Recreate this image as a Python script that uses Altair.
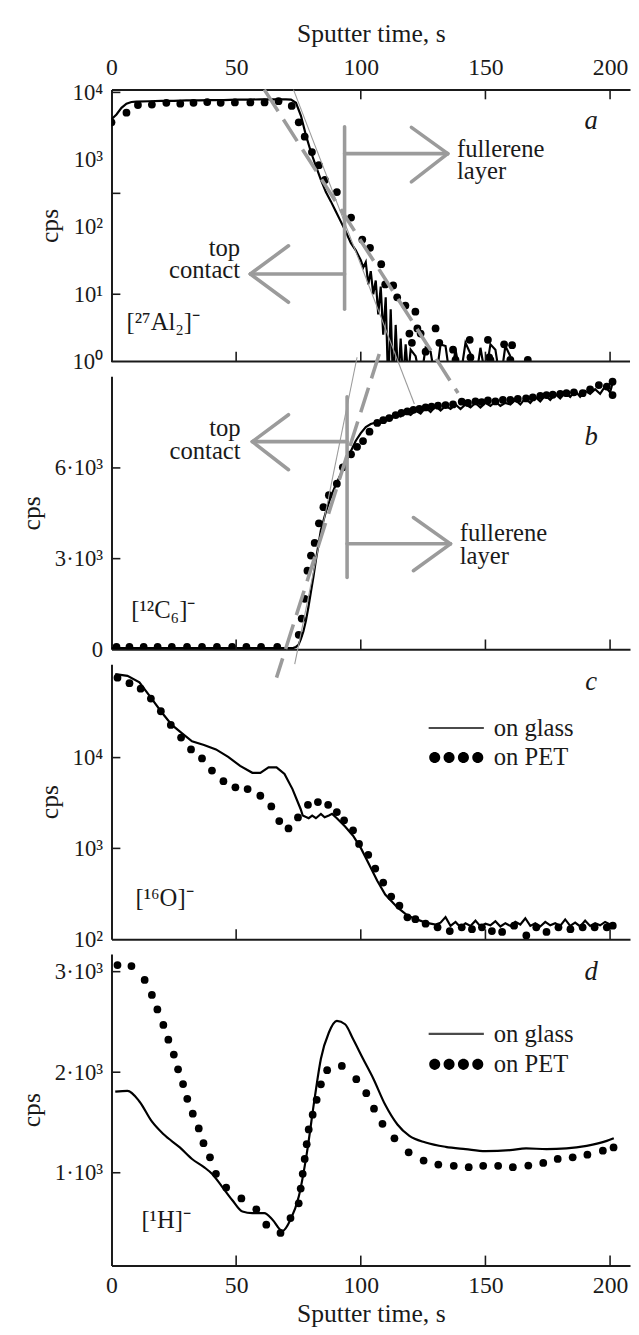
import altair as alt
import pandas as pd

FONT = "Liberation Serif"
TXT = "#1a1a1a"
AX = "#1a1a1a"
GRAY = "#9b9b9b"

XMAX = 208
W = 526
H_A, H_B, H_C, H_D = 276, 277, 279, 316

X_LABELS = [0, 50, 100, 150, 200]
X_TICKS = [50, 100, 150, 200]
X_TICKS_TOP = [100, 150, 200]

# ---------------- panel a : [27Al2]- (log) ----------------
A_DOMAIN = [1, 11066]
A_LAB_V = [1, 10, 100, 1000, 10000]
A_LAB_T = ["10⁰", "10¹", "10²", "10³", "10⁴"]
A_TICKS = [10000, 316, 10]
GA_X = [0, 2, 4, 6, 8, 10, 15, 20, 25, 30, 35, 40, 45, 50, 55, 60, 65, 68, 70, 72,
        74, 76, 78, 80, 82, 84, 86, 88, 90, 92, 94, 96, 98, 100,
        101, 102, 103, 104, 105, 106, 107, 108, 109, 110, 111, 112, 113, 114, 115, 116, 117, 118, 119, 120,
        122, 124, 126, 128, 130, 132, 134, 136, 138, 140, 142, 144, 146, 148, 150, 152, 154, 156, 158, 160]
GA_V = [4000, 4700, 5900, 6800, 7200, 7300, 7400, 7500, 7500, 7600, 7600, 7700, 7700, 7800, 7800, 7900, 7900, 7900, 7900, 7800,
        7000, 4500, 2300, 1300, 800, 500, 330, 240, 170, 120, 85, 58, 45, 32,
        25, 30, 14, 22, 10, 16, 5, 13, 2.5, 9, 0.4, 6, 0.4, 3.5, 0.5, 2.2, 0.5, 1.8, 0.6, 1.5,
        1.2, 0.5, 1.6, 1.4, 0.5, 1.8, 1.7, 0.5, 1.5, 0.6, 1.9, 1.3, 0.5, 1.6, 0.6, 1.8, 1.5, 0.5, 1.7, 1.2]
PA_X = [0, 6, 10.6, 16.2, 22, 27.6, 32.9, 38.4, 43.8, 49.5, 55.7, 61.4, 67, 72.3, 75.1, 77.5, 80.4, 83.2, 85.6, 90.4,
        96.1, 100.6, 103.7, 108.2, 109.8, 113, 114.6, 117.9, 119.5, 120.5, 121.9, 122.7, 124, 126, 130, 131.5, 137, 138,
        143.7, 144, 151, 151.5, 152, 157.5, 160, 160.7, 167]
PA_V = [3600, 5000, 6500, 6600, 7000, 6800, 7000, 7200, 7000, 7100, 7100, 7100, 7400, 6300, 3600, 2200, 1300, 830, 500, 330,
        138, 65, 49, 28, 14, 13.5, 9, 6.8, 2.6, 1.9, 5.5, 3.1, 2.6, 1.4, 3.1, 1.9, 1.5, 1.06,
        2.1, 1.15, 2.1, 1.15, 1.06, 1.8, 1.06, 1.75, 1.06]
A_THICK = [(93.5, 3090, 93.5, 6.0), (93.5, 20, 55.7, 20), (71, 52.5, 55.7, 20), (71, 7.6, 55.7, 20),
           (93.5, 1230, 134.9, 1230), (120.3, 3020, 134.9, 1230), (120.3, 468, 134.9, 1230)]
A_THIN = [(73, 11000, 121.5, 0.234)]
A_DASH = [(61.3, 11000, 139, 0.34)]
A_TEXT_L = [("fullerene", 138.6, 1450), ("layer", 138.6, 665), ("[²⁷Al₂]⁻", 6.0, 3.9)]
A_TEXT_R = [("top", 51.6, 49), ("contact", 51.6, 23.2)]
A_LETTER = [("a", 192.4, 3800)]

# ---------------- panel b : [12C6]- (linear) ----------------
B_DOMAIN = [0, 9030]
B_LAB_V = [0, 3000, 6000]
B_LAB_T = ["0", "3·10³", "6·10³"]
B_TICKS = [3000, 6000]
GB_X = [0, 10, 20, 30, 40, 50, 60, 70, 73, 74, 75, 76, 77, 78, 79, 80, 81, 82, 83, 84,
        86, 88, 90, 92, 94, 96, 98, 100, 102, 104, 106, 108, 110, 112, 114, 116, 118, 120, 122, 124,
        126, 128, 130, 132, 134, 136, 138, 140, 142, 144, 146, 148, 150, 152, 154, 156, 158, 160, 162, 164,
        166, 168, 170, 172, 174, 176, 178, 180, 182, 184, 186, 188, 190, 192, 194, 196, 198, 200, 201]
GB_V = [40, 40, 40, 40, 40, 40, 40, 40, 50, 80, 150, 350, 600, 950, 1400, 1900, 2400, 2950, 3450, 3950,
        4550, 5050, 5450, 5800, 6200, 6550, 6900, 7150, 7350, 7450, 7500, 7550, 7650, 7600, 7750, 7700, 7850, 7750, 7900, 7800,
        8000, 7850, 8050, 7900, 8050, 7950, 8100, 7950, 8100, 8000, 8150, 8000, 8150, 8050, 8200, 8050, 8150, 8100, 8250, 8100,
        8300, 8150, 8350, 8200, 8400, 8250, 8450, 8300, 8500, 8350, 8550, 8350, 8550, 8450, 8600, 8450, 8700, 8500, 8800]
PB_X = [2, 7.2, 12.9, 18.5, 24.2, 30.3, 36.3, 42.3, 48.4, 54.1, 60, 66.5,
        75.1, 76.3, 77.5, 78.6, 80, 81.5, 83.2, 85, 87.2, 90.4, 92.8, 96.1, 98.5, 100.9, 103.5, 106.6, 109, 111.4,
        114, 116.3, 118.7, 121.1, 123.5, 126, 128.4, 131, 134, 137, 140.5, 143, 146, 148.5, 151, 154, 157, 160, 163,
        166.3, 169, 172, 174.5, 177, 180, 182.5, 185.5, 189, 192, 195.5, 198.7, 201, 201]
PB_V = [80, 80, 80, 80, 80, 80, 80, 80, 80, 80, 80, 80,
        480, 1020, 1670, 2600, 3100, 3520, 4170, 4700, 5100, 5480, 6020, 6450, 6700, 6890, 7200, 7490, 7580, 7650,
        7750, 7820, 7870, 7920, 7950, 8000, 8030, 8060, 8080, 8100, 8190, 8150, 8200, 8180, 8230, 8200, 8250, 8250, 8280,
        8300, 8330, 8380, 8410, 8420, 8450, 8470, 8500, 8470, 8600, 8740, 8690, 8850, 8410]
B_THICK = [(94.5, 8355, 94.5, 2380), (94.5, 6870, 56.5, 6870), (71, 7760, 56.5, 6870), (71, 5940, 56.5, 6870),
           (94.5, 3490, 136, 3490), (121.1, 4360, 136, 3490), (121.1, 2600, 136, 3490)]
B_THIN = [(98.5, 9660, 73.5, -490)]
B_DASH = [(107.4, 9770, 66.2, -935)]
B_TEXT_L = [("fullerene", 139.7, 3850), ("layer", 139.7, 3090), ("[¹²C₆]⁻", 7.9, 1300)]
B_TEXT_R = [("top", 51.8, 7325), ("contact", 51.8, 6560)]
B_LETTER = [("b", 192.4, 7010)]

# ---------------- panel c : [16O]- (log) ----------------
C_DOMAIN = [100, 107000]
C_LAB_V = [100, 1000, 10000]
C_LAB_T = ["10²", "10³", "10⁴"]
C_TICKS = [1000, 10000]
GC_X = [1.5, 6.4, 11.2, 16.1, 20.1, 24.2, 28.2, 32.3, 37.1, 41.9, 46.8, 51.6, 56.5,
        59.7, 63, 66.2, 69.4, 72.6, 75.9, 76.7, 79.1, 80.5, 82, 84, 85.5, 87.2, 88.5, 90.4, 93.7, 96.9,
        100.1, 103.4, 106.6, 109.8, 114.7, 117.9, 121, 124.4, 127, 130, 132, 134, 136,
        138, 140, 142, 144, 146, 148, 150, 152, 154, 156, 158, 160, 162, 164, 166, 168, 170, 172, 174, 176,
        178, 180, 182, 184, 186, 188, 190, 192, 194, 196, 198, 200, 201]
GC_V = [83000, 79400, 67600, 44700, 31600, 22900, 18600, 15100, 13800, 12300, 10200, 8100, 6800,
        6800, 7800, 7800, 6600, 4500, 2700, 2300, 2150, 2300, 2150, 2400, 2200, 2300, 2400, 2150, 1740, 1380,
        1000, 660, 440, 310, 224, 190, 170, 158, 150, 145, 152, 175, 140,
        155, 135, 150, 140, 160, 138, 148, 142, 158, 138, 150, 140, 155, 145, 170, 140, 150, 138, 155, 142,
        150, 140, 165, 140, 152, 138, 160, 140, 150, 142, 155, 145, 150]
PC_X = [2.4, 7.2, 11.7, 15.8, 19.8, 23.8, 27.9, 31.9, 36.3, 40.3, 44.9, 49.7, 54.6, 59.7, 64.1, 67.3, 71, 74.8,
        78.8, 82.8, 86.9, 90.4, 93.3, 96.9, 99.3, 103, 105.8, 109, 112.2, 115.5, 118.7, 121.9, 126, 130.8, 135.7,
        140.5, 144.6, 148.6, 152.6, 156.7, 161.5, 166.4, 170.4, 174.5, 179.3, 184.1, 189, 193.8, 198.7, 201.1]
PC_V = [75900, 66100, 57500, 44700, 32400, 22900, 16600, 12300, 9800, 7200, 5500, 4700, 4500, 3800, 2900, 2000, 1660, 2190,
        3020, 3240, 3020, 2510, 2040, 1580, 1120, 850, 600, 420, 295, 234, 174, 166, 148, 135, 123,
        135, 129, 135, 123, 120, 141, 110, 135, 120, 135, 129, 135, 135, 135, 141]
C_TEXT_L = [("[¹⁶O]⁻", 9.6, 285), ("on glass", 153.3, 21200), ("on PET", 153.3, 10000)]
C_LETTER = [("c", 192.4, 67600)]
C_LEG_LINE = [(138.3, 21200)]
C_LEG_DOTS = [(138.3, 10000)]

# ---------------- panel d : [1H]- (linear) ----------------
D_DOMAIN = [78, 3176]
D_LAB_V = [1000, 2000, 3000]
D_LAB_T = ["1·10³", "2·10³", "3·10³"]
D_TICKS = [1000, 2000, 3000]
GD_X = [1.5, 6.4, 11.2, 16.1, 20.9, 27.4, 32.3, 37.1, 40.3, 44.4, 48.4, 52.5, 56.5, 61.3, 64.6, 68.6, 71.8, 75.1, 78.3, 81.5,
        84, 87.2, 90.4, 93.7, 96.9, 100.9, 105, 109.8, 114.7, 119.5, 126, 134, 142, 150, 159.9, 166.3, 174.5, 182.5, 190.6,
        198.7, 201.5]
GD_V = [1807, 1814, 1709, 1513, 1382, 1252, 1137, 1056, 990, 860, 729, 614, 598, 598, 533, 420, 533, 761, 1186, 1742,
        2134, 2395, 2510, 2477, 2330, 2134, 1938, 1676, 1480, 1366, 1301, 1258, 1235, 1215, 1225, 1242, 1235, 1242, 1268,
        1317, 1343]
PD_X = [2.4, 8, 13.3, 16.2, 18.4, 20.8, 22.8, 25, 26.7, 28.7, 30.4, 32.6, 35, 36.9, 39.5, 41.9, 46, 52.1, 58.1, 62.1,
        67.8, 71.8, 75.1, 75.9, 76.7, 77.5, 78.3, 79.1, 80.7, 82.3, 84, 86.5, 92.4, 98.2, 102.2, 105.3, 108.7, 113.5,
        119.2, 125.2, 131.1, 137.3, 143.3, 149.1, 155.1, 161, 167.2, 173.2, 179, 185, 190.9, 197.1, 201.4]
PD_V = [3066, 3056, 2918, 2768, 2624, 2470, 2324, 2176, 2029, 1882, 1735, 1588, 1441, 1294, 1154, 990, 853, 745, 637, 484,
        402, 549, 696, 843, 990, 1137, 1284, 1431, 1578, 1725, 1879, 2020, 2062, 1931, 1791, 1637, 1487, 1343,
        1203, 1121, 1082, 1069, 1056, 1069, 1069, 1056, 1072, 1098, 1137, 1154, 1180, 1219, 1252]
D_TEXT_L = [("[¹H]⁻", 12.0, 532), ("on glass", 153.3, 2382), ("on PET", 153.3, 2078)]
D_LETTER = [("d", 192.4, 3000)]
D_LEG_LINE = [(138.3, 2382)]
D_LEG_DOTS = [(138.3, 2078)]

# ---------------------------------------------------------------
XS = alt.Scale(domain=[0, XMAX], nice=False, zero=False)
DOTS4 = ("M-0.98,0a0.2,0.2 0 1,0 0.4,0a0.2,0.2 0 1,0 -0.4,0Z"
         "M-0.46,0a0.2,0.2 0 1,0 0.4,0a0.2,0.2 0 1,0 -0.4,0Z"
         "M0.06,0a0.2,0.2 0 1,0 0.4,0a0.2,0.2 0 1,0 -0.4,0Z"
         "M0.58,0a0.2,0.2 0 1,0 0.4,0a0.2,0.2 0 1,0 -0.4,0Z")


def label_expr(vals, labs):
    return " : ".join(f"datum.value == {v} ? '{l}'" for v, l in zip(vals, labs)) + " : ''"


def y_axis(vals, labs):
    return alt.Axis(values=vals, labelExpr=label_expr(vals, labs), tickSize=0, labelPadding=9,
                    labelFont=FONT, labelFontSize=23, labelColor=TXT, labelOverlap=False, labelFlush=False,
                    title="cps", titleFont=FONT, titleFontSize=26, titleFontWeight="normal", titleColor=TXT,
                    titlePadding=10, domainColor=AX, domainWidth=2, grid=False)


def x_axis(kind):
    common = dict(values=X_LABELS, tickSize=0, domainColor=AX, domainWidth=2, grid=False, labelFlush=False,
                  labelFont=FONT, labelFontSize=24, labelColor=TXT, labelOverlap=False,
                  titleFont=FONT, titleFontSize=26, titleFontWeight="normal", titleColor=TXT)
    if kind == "top":
        return alt.Axis(orient="top", labelPadding=10, title="Sputter time, s", titlePadding=10, **common)
    if kind == "bottom":
        return alt.Axis(orient="bottom", labelPadding=8, title="Sputter time, s", titlePadding=4, **common)
    return alt.Axis(orient="bottom", labels=False, title="", **common)


def panel(h, ys, yaxis, gx, gv, px, pv, xkind, interp="linear", thick=(), thin=(), dash=(),
          text_l=(), text_r=(), letter=(), ticks_y=(), top_ticks=False, leg_line=(), leg_dots=()):
    xa = x_axis(xkind)

    def X(f):
        return alt.X(f, scale=XS, axis=xa)

    def Y(f):
        return alt.Y(f, scale=ys, axis=yaxis)

    layers = []
    gdf = pd.DataFrame({"x": gx, "v": gv})
    layers.append(alt.Chart(gdf).mark_line(color="black", strokeWidth=2.2, clip=True, interpolate=interp).encode(
        x=X("x:Q"), y=Y("v:Q")))
    pdf = pd.DataFrame({"x": px, "v": pv})
    layers.append(alt.Chart(pdf).mark_circle(color="black", size=62, opacity=1, clip=True).encode(
        x=X("x:Q"), y=Y("v:Q")))
    tk = alt.Chart(pd.DataFrame({"x": X_TICKS})).mark_rule(color=AX, strokeWidth=1.6)
    layers.append(tk.encode(x=X("x:Q"), y=alt.value(h - 10), y2=alt.value(h)))
    if top_ticks:
        tkt = alt.Chart(pd.DataFrame({"x": X_TICKS_TOP})).mark_rule(color=AX, strokeWidth=1.6)
        layers.append(tkt.encode(x=X("x:Q"), y=alt.value(0), y2=alt.value(10)))
        layers.append(alt.Chart(pd.DataFrame({"x": [0], "b": [XMAX]})).mark_rule(color=AX, strokeWidth=2).encode(
            x=X("x:Q"), x2="b:Q", y=alt.value(h)))
    if ticks_y:
        ydf = pd.DataFrame({"v": list(ticks_y)})
        layers.append(alt.Chart(ydf).mark_rule(color=AX, strokeWidth=1.6).encode(
            y=Y("v:Q"), x=alt.value(0), x2=alt.value(9)))

    def segs(rows, **kw):
        df = pd.DataFrame(list(rows), columns=["x", "v", "x2", "y2"])
        return alt.Chart(df).mark_rule(clip=False, color=GRAY, **kw).encode(
            x=X("x:Q"), y=Y("v:Q"), x2="x2:Q", y2="y2:Q")

    if thin:
        layers.append(segs(thin, strokeWidth=1.1))
    if dash:
        layers.append(segs(dash, strokeWidth=3.6, strokeDash=[26, 10]))
    if thick:
        layers.append(segs(thick, strokeWidth=3.6, strokeCap="round"))

    def texts(rows, align, **kw):
        df = pd.DataFrame(list(rows), columns=["label", "x", "v"])
        return alt.Chart(df).mark_text(align=align, baseline="middle", font=FONT, color=TXT, clip=False, **kw).encode(
            x=X("x:Q"), y=Y("v:Q"), text="label:N")

    if text_l:
        layers.append(texts(text_l, "left", fontSize=25))
    if text_r:
        layers.append(texts(text_r, "right", fontSize=25))
    if letter:
        layers.append(texts(letter, "center", fontSize=27, fontStyle="italic"))
    if leg_line:
        df = pd.DataFrame(list(leg_line), columns=["x", "v"])
        layers.append(alt.Chart(df).mark_point(shape="stroke", size=3136, strokeWidth=2.2, color="black",
                                                filled=False).encode(x=X("x:Q"), y=Y("v:Q")))
    if leg_dots:
        df = pd.DataFrame(list(leg_dots), columns=["x", "v"])
        layers.append(alt.Chart(df).mark_point(shape=DOTS4, size=3136, color="black", filled=True,
                                                opacity=1).encode(x=X("x:Q"), y=Y("v:Q")))
    return alt.layer(*layers).properties(width=W, height=h)


ysa = alt.Scale(type="log", domain=A_DOMAIN, nice=False)
ysb = alt.Scale(type="linear", domain=B_DOMAIN, nice=False, zero=False)
ysc = alt.Scale(type="log", domain=C_DOMAIN, nice=False)
ysd = alt.Scale(type="linear", domain=D_DOMAIN, nice=False, zero=False)

pa = panel(H_A, ysa, y_axis(A_LAB_V, A_LAB_T), GA_X, GA_V, PA_X, PA_V, "top",
           thick=A_THICK, thin=A_THIN, dash=A_DASH, text_l=A_TEXT_L, text_r=A_TEXT_R, letter=A_LETTER,
           ticks_y=A_TICKS, top_ticks=True)
pb = panel(H_B, ysb, y_axis(B_LAB_V, B_LAB_T), GB_X, GB_V, PB_X, PB_V, "none",
           thick=B_THICK, thin=B_THIN, dash=B_DASH, text_l=B_TEXT_L, text_r=B_TEXT_R, letter=B_LETTER,
           ticks_y=B_TICKS)
pc = panel(H_C, ysc, y_axis(C_LAB_V, C_LAB_T), GC_X, GC_V, PC_X, PC_V, "none",
           text_l=C_TEXT_L, letter=C_LETTER, ticks_y=C_TICKS, leg_line=C_LEG_LINE, leg_dots=C_LEG_DOTS)
pd_ = panel(H_D, ysd, y_axis(D_LAB_V, D_LAB_T), GD_X, GD_V, PD_X, PD_V, "bottom", interp="monotone",
            text_l=D_TEXT_L, letter=D_LETTER, ticks_y=D_TICKS, leg_line=D_LEG_LINE, leg_dots=D_LEG_DOTS)

chart = alt.vconcat(pa, pb, pc, pd_, spacing=15, bounds="flush").resolve_scale(y="independent").configure_view(
    strokeOpacity=0).properties(background="white", padding={"left": 10, "top": 3, "right": 0, "bottom": 5})

chart.save("out.html", embed_options={"renderer": "svg", "actions": False})
